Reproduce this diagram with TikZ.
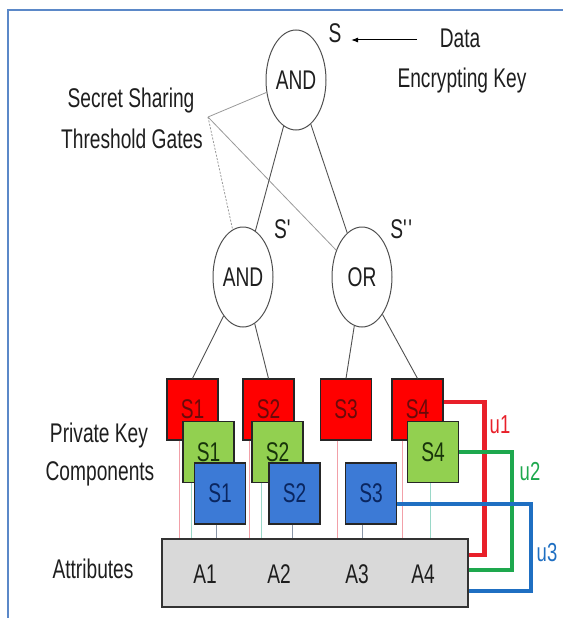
\documentclass[tikz,border=0pt]{standalone}
\usepackage{fontspec}
\setmainfont{Liberation Sans}[FakeStretch=0.71]
\usetikzlibrary{arrows.meta,shapes.geometric}

\definecolor{frameblue}{HTML}{5B88C8}
\definecolor{txt}{HTML}{1E1E1E}
\definecolor{gateline}{HTML}{505050}
\definecolor{redfill}{HTML}{FF0000}
\definecolor{greenfill}{HTML}{92D050}
\definecolor{bluefill}{HTML}{3C7AD6}
\definecolor{redtxt}{HTML}{6A0A0A}
\definecolor{greentxt}{HTML}{17330A}
\definecolor{bluetxt}{HTML}{0A2660}
\definecolor{attrfill}{HTML}{D9D9D9}
\definecolor{pinkln}{HTML}{F2A0A8}
\definecolor{tealln}{HTML}{9AD8C8}
\definecolor{grayln}{HTML}{8A96A8}
\definecolor{ured}{HTML}{E8202A}
\definecolor{ugreen}{HTML}{1EA84E}
\definecolor{ublue}{HTML}{1F6FC2}

\newcommand{\labelsize}{\fontsize{27}{31}\selectfont}

\tikzset{
  lbl/.style={font=\labelsize, text=txt, inner sep=0pt, anchor=base},
  gate/.style={ellipse, draw=gateline, line width=1pt, fill=white,
    minimum width=60pt, minimum height=100pt, inner sep=0pt,
    font=\labelsize, text=txt},
  edge/.style={draw=gateline, line width=0.9pt},
  pointer/.style={draw=gray!80, line width=0.8pt},
  sbox/.style={draw=black!85, line width=1.1pt, minimum width=51pt,
    minimum height=61pt, inner sep=0pt, font=\labelsize},
  redbox/.style={sbox, fill=redfill, text=redtxt},
  greenbox/.style={sbox, fill=greenfill, text=greentxt},
  bluebox/.style={sbox, fill=bluefill, text=bluetxt},
  thinln/.style={line width=0.9pt},
  uline/.style={line width=4.5pt},
  ulabel/.style={font=\fontsize{26}{30}\selectfont, inner sep=0pt},
}

\begin{document}
\begin{tikzpicture}[x=1pt,y=-1pt]
\useasboundingbox (0,0) rectangle (563,618);

% frame
\draw[frameblue, line width=2pt] (8,618) -- (8,10) -- (563,10);

% threshold gates
\node[gate] (top)  at (296,80)  {AND};
\node[gate] (mand) at (243,277) {AND};
\node[gate] (mor)  at (362,277) {OR};

\node[lbl] (skey) at (335,43) {S};
\node[lbl] (sone) at (283,238) {S\textquotesingle};
\node[lbl] (stwo) at (402,238) {S\textquotesingle\textquotesingle};

\node[lbl] (data) at (460,48) {Data};
\node[lbl] (enc)  at (462,88) {Encrypting Key};
\coordinate (atail) at (417,40);
\coordinate (ahead) at (351,40);
\draw[line width=1pt, -{Latex[length=7pt,width=5pt]}] (atail) -- (ahead);

\node[lbl] (ss1) at (131,107) {Secret Sharing};
\node[lbl] (ss2) at (132,148) {Threshold Gates};
\coordinate (ptr) at (208,117);
\draw[pointer] (ptr) -- (top);
\draw[pointer, dash pattern=on 2pt off 1.5pt] (ptr) -- (mand);
\draw[pointer] (ptr) -- (mor);

% private key components
\node[lbl] (pk1) at (99,442) {Private Key};
\node[lbl] (pk2) at (100,480) {Components};
\node[lbl] (att) at (93,578) {Attributes};

\node[draw=black!80, line width=1.1pt, fill=attrfill, minimum width=306pt,
  minimum height=68pt, inner sep=0pt] (attr) at (315,573) {};
\node[lbl] (a1) at (205,583) {A1};
\node[lbl] (a2) at (279,583) {A2};
\node[lbl] (a3) at (357,583) {A3};
\node[lbl] (a4) at (423,583) {A4};

% red shares (drawn before their leads' neighbours so overlaps stack correctly)
\path
  (192.5,409.5) node[redbox] (r1) {S1}
  (268.5,409.5) node[redbox] (r2) {S2}
  (346,409.5)   node[redbox] (r3) {S3}
  (417.5,409.5) node[redbox] (r4) {S4};

% leads from the key components to the attributes
\foreach \n/\dx/\c in {r1/-13.5/pinkln, r2/-19.5/pinkln, r3/-9/pinkln, r4/-15.5/pinkln}
  \draw[thinln, \c] ([xshift=\dx pt]\n.south) -- ([xshift=\dx pt]\n.south |- attr.north);

\path
  (208.5,452) node[greenbox] (g1) {S1}
  (277.5,452) node[greenbox] (g2) {S2}
  (433,452)   node[greenbox] (g4) {S4};
\foreach \n/\dx/\c in {g1/-17.5/tealln, g2/-16.5/tealln, g4/-3/tealln}
  \draw[thinln, \c] ([xshift=\dx pt]\n.south) -- ([xshift=\dx pt]\n.south |- attr.north);

\path
  (220,493.5)   node[bluebox] (b1) {S1}
  (294.5,493.5) node[bluebox] (b2) {S2}
  (371,493.5)   node[bluebox] (b3) {S3};
\foreach \n/\dx/\c in {b1/-4/grayln, b2/-2.5/grayln, b3/-9/grayln}
  \draw[thinln, \c] ([xshift=\dx pt]\n.south) -- ([xshift=\dx pt]\n.south |- attr.north);

% tree edges
\draw[edge] (top) -- (mand);
\draw[edge] (top) -- (mor);
\draw[edge] (mand) -- (r1.north);
\draw[edge] (mand) -- (r2.north);
\draw[edge] (mor) -- (r3.north);
\draw[edge] (mor) -- (r4.north);

% users' key sets
\draw[uline, ured]   ([yshift=7.5pt]r4.east) -- ++(41,0) |- ([yshift=18pt]attr.east);
\draw[uline, ugreen] (g4.east) -- ++(53,0) |- ([yshift=3pt]attr.east);
\draw[uline, ublue]  ([yshift=-10.5pt]b3.east) -- ++(134,0) |- ([yshift=-18pt]attr.east);

\node[ulabel, text=ured]   (u1) at (500,425) {u1};
\node[ulabel, text=ugreen] (u2) at (530,472) {u2};
\node[ulabel, text=ublue]  (u3) at (547,553) {u3};
\end{tikzpicture}
\end{document}
